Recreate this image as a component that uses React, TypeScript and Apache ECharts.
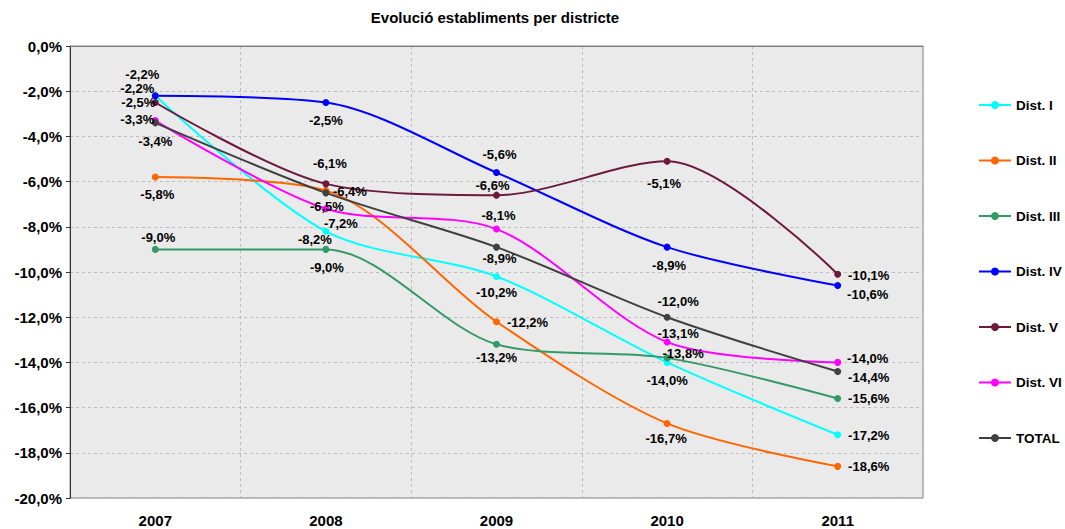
import React, { useEffect, useRef } from "react";
import * as echarts from "echarts";

const years = ["2007", "2008", "2009", "2010", "2011"];
const distI = [-2.2, -8.2, -10.2, -14.0, -17.2];
const distII = [-5.8, -6.4, -12.2, -16.7, -18.6];
const distIII = [-9.0, -9.0, -13.2, -13.8, -15.6];
const distIV = [-2.2, -2.5, -5.6, -8.9, -10.6];
const distV = [-2.5, -6.1, -6.6, -5.1, -10.1];
const distVI = [-3.3, -7.2, -8.1, -13.1, -14.0];
const total = [-3.4, -6.5, -8.9, -12.0, -14.4];
const seriesNames = ["Dist. I", "Dist. II", "Dist. III", "Dist. IV", "Dist. V", "Dist. VI", "TOTAL"];
const yTicks = { min: -20, max: 0, interval: 2 };

// label offsets (styling, pixels relative to the marker)
const labelOffsets: number[][][] = [
  [[-18, -7], [-11, 8], [0, 16], [0, 18], [31, 1]],
  [[2, 17], [24, 1], [31, 1], [-1, 15], [31, 0]],
  [[3, -12], [1, 18], [0, 13], [16, -4], [31, 0]],
  [[-13, -21], [0, 18], [3, -18], [2, 18], [30, 9]],
  [[-17, 0], [4, -20], [-4, -10], [-3, 22], [31, 1]],
  [[-18, -1], [15, 15], [2, -14], [11, -9], [30, -4]],
  [[0, 19], [1, 14], [3, 11], [11, -16], [31, 6]],
];
const colors = ["#00FFFF", "#FF6600", "#339966", "#0000FF", "#6B1A3C", "#FF00FF", "#404040"];

const fmt = (v: number) => v.toFixed(1).replace(".", ",").replace("-0,0", "0,0") + "%";

export default function App() {
  const ref = useRef<HTMLDivElement>(null);
  useEffect(() => {
    if (!ref.current) return;
    const chart = echarts.init(ref.current, null, { renderer: "svg" });
    const allData = [distI, distII, distIII, distIV, distV, distVI, total];
    const font = "'Liberation Sans', Arial, sans-serif";
    chart.setOption({
      animation: false,
      backgroundColor: "#FFFFFF",
      title: {
        text: "Evolució establiments per districte",
        left: 495,
        textAlign: "center",
        top: 10,
        padding: 0,
        textStyle: { fontFamily: font, fontSize: 15, fontWeight: "bold", color: "#000" },
      },
      legend: {
        orient: "vertical",
        left: 978,
        top: 97,
        padding: 0,
        itemWidth: 32,
        itemHeight: 10,
        itemGap: 39.5,
        textStyle: { fontFamily: font, fontSize: 13.5, fontWeight: "bold", color: "#000", lineHeight: 16 },
        data: seriesNames,
      },
      grid: {
        left: 70,
        right: 142,
        top: 46,
        bottom: 31,
        show: true,
        backgroundColor: "#EAEAEA",
        borderColor: "#808080",
        borderWidth: 1,
      },
      xAxis: {
        type: "category",
        data: years,
        boundaryGap: true,
        axisLine: { lineStyle: { color: "#808080" } },
        axisTick: { show: false },
        axisLabel: { fontFamily: font, fontSize: 15, fontWeight: "bold", color: "#000", margin: 15 },
        splitLine: { show: true, lineStyle: { color: "#BDBDBD", type: [3, 3] } },
      },
      yAxis: {
        type: "value",
        min: yTicks.min,
        max: yTicks.max,
        interval: yTicks.interval,
        axisLine: { show: true, lineStyle: { color: "#333333", width: 1 } },
        axisTick: { show: true, inside: false, length: 4, lineStyle: { color: "#333" } },
        axisLabel: {
          fontFamily: font,
          fontSize: 15,
          fontWeight: "bold",
          color: "#000",
          margin: 8,
          formatter: (v: number) => fmt(v),
        },
        splitLine: { show: true, lineStyle: { color: "#BDBDBD", type: [3, 3] } },
      },
      series: allData.map((d, si) => ({
        name: seriesNames[si],
        type: "line",
        smooth: 0.3,
        symbol: "circle",
        symbolSize: 7,
        color: colors[si],
        lineStyle: { width: 2, color: colors[si] },
        itemStyle: { color: colors[si] },
        data: d.map((v, i) => ({
          value: v,
          label: {
            show: true,
            position: "inside",
            offset: labelOffsets[si][i],
            formatter: (p: any) => fmt(p.value),
            fontFamily: font,
            fontSize: 13,
            fontWeight: "bold",
            color: "#000",
          },
        })),
      })),
    });
    return () => chart.dispose();
  }, []);
  return <div ref={ref} style={{ width: 1065, height: 529, position: "absolute", left: 0, top: 0 }} />;
}
